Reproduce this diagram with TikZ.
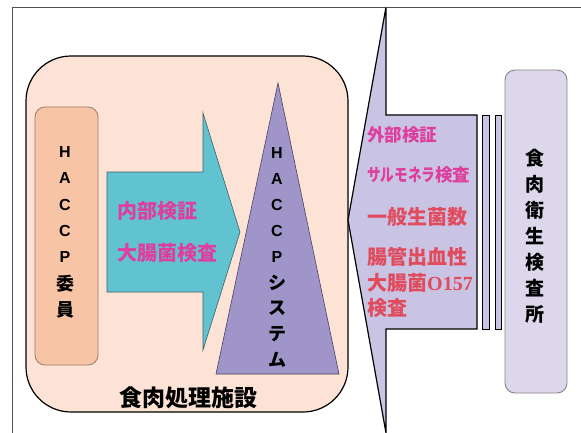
\documentclass[tikz,border=0pt]{standalone}
\usepackage{fontspec}
\setmainfont{Liberation Sans}
\newfontfamily\cjk{Noto Sans CJK JP}
\newfontfamily\latf{Liberation Sans}
\newfontfamily\serifo{Liberation Serif}
\definecolor{framegray}{HTML}{505050}
\definecolor{peach}{HTML}{FCE3D6}
\definecolor{salmon}{HTML}{F8C4A6}
\definecolor{salmonline}{HTML}{A07868}
\definecolor{cyanfill}{HTML}{62C3D0}
\definecolor{cyanline}{HTML}{3E5E66}
\definecolor{trifill}{HTML}{9F95C9}
\definecolor{triline}{HTML}{4A4262}
\definecolor{lavfill}{HTML}{C9C4E3}
\definecolor{boxfill}{HTML}{DCD7EA}
\definecolor{boxline}{HTML}{8F8088}
\definecolor{magtext}{HTML}{DE3F9E}
\definecolor{redtext}{HTML}{E04C5E}
\tikzset{
  vch/.style={inner sep=0, font=\cjk\bfseries\fontsize{18}{18}\selectfont, text=black},
  vlat/.style={inner sep=0, font=\latf\bfseries\fontsize{16}{16}\selectfont, text=black},
  pinklabel/.style={anchor=west, inner sep=0, text=magtext, font=\cjk\bfseries\fontsize{20}{20}\selectfont},
  pinksmall/.style={anchor=west, inner sep=0, text=magtext, font=\cjk\bfseries\fontsize{17.5}{17.5}\selectfont},
  redlabel/.style={anchor=west, inner sep=0, text=redtext, font=\cjk\bfseries\fontsize{20}{20}\selectfont},
}
\begin{document}
\begin{tikzpicture}[x=1pt,y=-1pt]
\useasboundingbox (0,0) rectangle (581,432);
\clip (0,0) rectangle (581,432);
\fill[white] (0,0) rectangle (581,432);
% facility
\draw[fill=peach, draw=black, line width=1.2pt, rounded corners=45pt] (26,56) rectangle (348,412);
% HACCP committee box
\draw[fill=salmon, draw=salmonline, line width=0.8pt, rounded corners=10pt] (35,107) rectangle (98,365);
% cyan arrow
\draw[fill=cyanfill, draw=cyanline, line width=0.6pt] (107,172) -- (203,172) -- (203,113) -- (240,232) -- (203,350) -- (203,292) -- (107,292) -- cycle;
% triangle
\draw[fill=trifill, draw=triline, line width=0.6pt] (278,83) -- (339,374) -- (216,374) -- cycle;
% big left arrow
\draw[fill=lavfill, draw=black, line width=1.2pt] (348,220) -- (386,7) -- (386,115) -- (477,115) -- (477,329) -- (386,329) -- (386,433) -- cycle;
% bars
\draw[fill=lavfill, draw=black, line width=1pt] (482,115) rectangle (489,329);
\draw[fill=lavfill, draw=black, line width=1pt] (495,115) rectangle (501,329);
% inspection office box
\draw[fill=boxfill, draw=boxline, line width=0.9pt, rounded corners=10pt] (505,70) rectangle (567,393);
% outer frame
\draw[framegray, line width=1pt] (12,433) -- (12,7) -- (582,7);
% vertical texts
\foreach \ch [count=\i] in {H,A,C,C,P}
  \node[vlat] (hm\i) at (65,{152+(\i-1)*26.3}) {\ch};
\node[vch] (hm6) at (65,{152+5*26.3}) {委};
\node[vch] (hm7) at (65,{152+6*26.3}) {員};
\foreach \ch [count=\i] in {H,A,C,C,P}
  \node[vlat] (hs\i) at (277,{153+(\i-1)*25.9}) {\ch};
\foreach \ch [count=\i from 6] in {シ,ス,テ,ム}
  \node[vch] (hs\i) at (277,{153+(\i-1)*25.9}) {\ch};
\foreach \ch [count=\i] in {食,肉,衛,生,検,査,所}
  \node[vch, font=\cjk\bfseries\fontsize{19}{19}\selectfont] (ins\i) at (535,{158+(\i-1)*26}) {\ch};
% inner verification
\node[pinklabel] (inner1) at (117,211) {内部検証};
\node[pinklabel] (inner2) at (117,253) {大腸菌検査};
% outer verification
\node[pinksmall] (outer1) at (367,135) {外部検証};
\node[pinksmall] (outer2) at (367,175) {\scalebox{0.78}[1]{サルモネラ}検査};
\node[redlabel] (outer3) at (367,217) {一般生菌数};
\node[redlabel] (outer4) at (367,257) {腸管出血性};
\node[redlabel] (outer5) at (367,283) {大腸菌{\serifo\bfseries O157}};
\node[redlabel] (outer6) at (367,308) {検査};
% facility label
\node[inner sep=0, font=\cjk\bfseries\fontsize{23}{23}\selectfont] (fac) at (188,398) {食肉処理施設};
\end{tikzpicture}
\end{document}
